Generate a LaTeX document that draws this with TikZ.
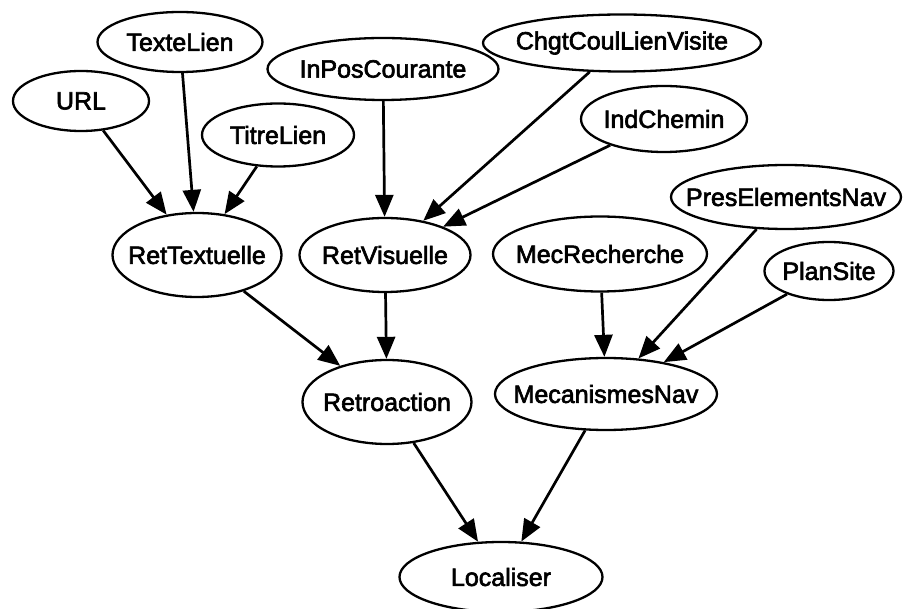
\documentclass[tikz,border=0pt]{standalone}
\usepackage{fontspec}
\setmainfont{Liberation Sans}
\newfontfamily\lblfont{Liberation Sans}[FakeBold=2.5]
\usetikzlibrary{shapes.geometric,arrows.meta}
% label set in a zero-width box, so the ellipse size comes from the style
\newcommand{\nm}[1]{\makebox[0pt]{#1}}
\begin{document}
\begin{tikzpicture}[x=1pt,y=-1pt,
  var/.style={ellipse, draw, line width=2.3pt, inner sep=0pt,
    font=\lblfont\fontsize{25}{29}\selectfont},
  dep/.style={line width=2.7pt, -{Triangle[length=22pt,width=18pt]}}]
\useasboundingbox (0,0) rectangle (903,609);

% variables
\node[var, minimum width=165pt, minimum height=60pt] (texte)   at (180,42)  {\nm{TexteLien}};
\node[var, minimum width=136pt, minimum height=60pt] (url)     at (81,101)  {\nm{URL}};
\node[var, minimum width=152pt, minimum height=63pt] (titre)   at (278,135) {\nm{TitreLien}};
\node[var, minimum width=231pt, minimum height=62pt] (inpos)   at (383,69)  {\nm{InPosCourante}};
\node[var, minimum width=278pt, minimum height=57pt] (chgt)    at (622,43)  {\nm{ChgtCoulLienVisite}};
\node[var, minimum width=166pt, minimum height=66pt] (indch)   at (664,119) {\nm{IndChemin}};
\node[var, minimum width=230pt, minimum height=64pt] (pres)    at (786,197) {\nm{PresElementsNav}};
\node[var, minimum width=169pt, minimum height=84pt] (rettext) at (197,255) {\nm{RetTextuelle}};
\node[var, minimum width=171pt, minimum height=74pt] (retvis)  at (385,255) {\nm{RetVisuelle}};
\node[var, minimum width=214pt, minimum height=75pt] (mecrech) at (600,254) {\nm{MecRecherche}};
\node[var, minimum width=129pt, minimum height=58pt] (plan)    at (829,271) {\nm{PlanSite}};
\node[var, minimum width=169pt, minimum height=84pt] (retro)   at (387,402) {\nm{Retroaction}};
\node[var, minimum width=222pt, minimum height=72pt] (mecnav)  at (606,394) {\nm{MecanismesNav}};
\node[var, minimum width=203pt, minimum height=70pt] (local)   at (501,577) {\nm{Localiser}};

% dependencies
\draw[dep] (url)     -- (rettext);
\draw[dep] (texte)   -- (rettext);
\draw[dep] (titre)   -- (rettext);
\draw[dep] (inpos)   -- (retvis);
\draw[dep] (chgt)    -- (retvis);
\draw[dep] (indch)   -- (retvis);
\draw[dep] (rettext) -- (retro);
\draw[dep] (retvis)  -- (retro);
\draw[dep] (mecrech) -- (mecnav);
\draw[dep] (pres)    -- (mecnav);
\draw[dep] (plan)    -- (mecnav);
\draw[dep] (retro)   -- (local);
\draw[dep] (mecnav)  -- (local);
\end{tikzpicture}
\end{document}
